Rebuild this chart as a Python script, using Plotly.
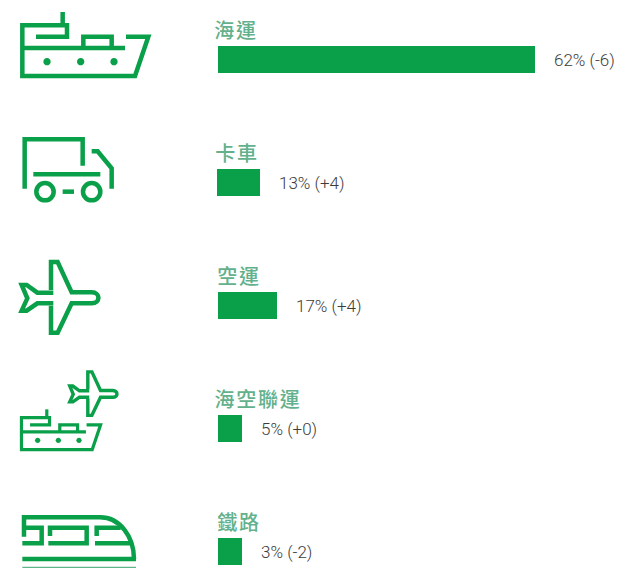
import re
import plotly.graph_objects as go

W, H = 619, 568
GREEN = "#0a9f49"

# --- data ---
modes = ["海運", "卡車", "空運", "海空聯運", "鐵路"]
shares = [62, 13, 17, 5, 3]
changes = ["-6", "+4", "+4", "+0", "-2"]
bar_lengths = [317, 43, 59, 24, 24]
bar_starts = [218, 217, 218, 218, 218]
label_starts = [215, 216, 218, 215, 218]

value_labels = [f"{s}% ({c})" for s, c in zip(shares, changes)]

fig = go.Figure()
fig.add_bar(
    y=modes, x=bar_lengths, base=bar_starts, orientation="h",
    marker=dict(color=GREEN, line=dict(width=0)), hoverinfo="skip",
)

annotations = []
for m, vl, b, l, ls in zip(modes, value_labels, bar_starts, bar_lengths, label_starts):
    annotations.append(dict(
        x=b + l, y=m, text=vl, xanchor="left", yanchor="middle", showarrow=False,
        xshift=17, yshift=0,
        font=dict(family="Roboto, sans-serif", size=17, color="#3c3c3c", weight=300),
    ))
    annotations.append(dict(
        x=ls, y=m, text=m, xanchor="left", yanchor="middle", showarrow=False,
        xshift=-3 + len(m), yshift=30,
        font=dict(family="Noto Sans CJK TC", size=20, color="#63b18c", weight=500),
    ))


# --- decorative icons (drawn in a 3x working grid of the page) ---
def tr(d, ox, oy, sx, tx=0, ty=0):
    idx = 0

    def rep(m):
        nonlocal idx
        v = float(m.group(0))
        if idx % 2 == 0:
            r = (tx + (v - ox) * sx) / 3 / W
        else:
            r = 1 - (ty + (v - oy) * sx) / 3 / H
        idx += 1
        return f"{r:.5f}"
    return re.sub(r"-?\d+\.?\d*", rep, d)


shapes = []


def icon(paths, width, ox=0, oy=0, sx=1, tx=0, ty=0, color=GREEN):
    for d in paths:
        shapes.append(dict(type="path", path=tr(d, ox, oy, sx, tx, ty), xref="paper", yref="paper",
                           line=dict(color=color, width=width), fillcolor="rgba(0,0,0,0)", layer="above"))


def circle_path(cx, cy, r):
    k = 0.5523 * r
    return (f"M{cx-r},{cy} C{cx-r},{cy-k} {cx-k},{cy-r} {cx},{cy-r} C{cx+k},{cy-r} {cx+r},{cy-k} {cx+r},{cy} "
            f"C{cx+r},{cy+k} {cx+k},{cy+r} {cx},{cy+r} C{cx-k},{cy+r} {cx-r},{cy+k} {cx-r},{cy} Z")


def dot(cx, cy, r):
    shapes.append(dict(type="path", path=tr(circle_path(cx, cy, r), 0, 0, 1), xref="paper", yref="paper",
                       line=dict(width=0), fillcolor=GREEN, layer="above"))


SHIP = [
    "M188,36 L188,72",
    "M108,110 L201,110 L201,76 L67,76 L67,228 L405,228 L445,110 L378,110",
    "M67,144 L375,144",
    "M250,144 L250,110 L335,110 L335,144",
]
PLANE = [
    "M153,150 L153,66 L173,66 L215,157 L275,157 C302,157 302,190 275,190 L215,190 L173,278 L153,278 L153,197",
    "M160,158 L112,158 L80,135 L65,135 L82,175 L65,212 L80,212 L112,190 L160,190",
]
TRAIN = [
    "M72,230 L72,172 L300,172 C360,172 402,230 402,297",
    "M67,297 L408,297",
    "M72,203 L125,203 L125,250 L67,250",
    "M150,228 L150,203 L260,203 L260,250 L145,250",
    "M290,228 L290,203 L362,203",
    "M285,250 L392,250",
]

# ship
icon(SHIP, 4.5)
for x in (141, 242, 342):
    dot(x, 185, 11)

# truck
icon(["M74,566 L74,418 L248,418 L248,497",
      "M275,454 L293,454 L335,505 L335,566",
      "M100,523 L301,523",
      "M188,575 L222,575",
      circle_path(135, 575, 26),
      circle_path(275, 575, 26)], 4.5)

# plane (y offset of zoom 2: 240 px = 720 in the grid)
icon(PLANE, 4.5, ty=720)

# small plane + small ship
icon(PLANE, 3.4, ox=58, oy=60, sx=0.615, tx=205, ty=720 + 392)
icon(SHIP, 3.2, ox=60, oy=36, sx=0.628, tx=60, ty=720 + 508)
for x in (113, 175, 237):
    dot(x, 720 + 601, 8)

# train
icon(TRAIN, 4.5, ty=1380)
icon(["M67,322 L408,322"], 1.2, ty=1380, color="#5fb58a")

fig.update_layout(
    width=W, height=H, margin=dict(l=0, r=0, t=0, b=0),
    paper_bgcolor="white", plot_bgcolor="white", showlegend=False,
    bargap=0.78,
    xaxis=dict(range=[0, W], visible=False, fixedrange=True),
    yaxis=dict(type="category", categoryorder="array", categoryarray=modes,
               range=[(H - 59.5) / 123, -59.5 / 123], visible=False, fixedrange=True),
    annotations=annotations, shapes=shapes,
)
post = """
document.body.style.margin = '0';
document.querySelectorAll('.annotation-text').forEach(function (t) {
  if (/[\\u4e00-\\u9fff]/.test(t.textContent)) { t.style.letterSpacing = '1.7px'; }
});
"""
fig.write_html("out.html", config={"displayModeBar": False}, post_script=post)
